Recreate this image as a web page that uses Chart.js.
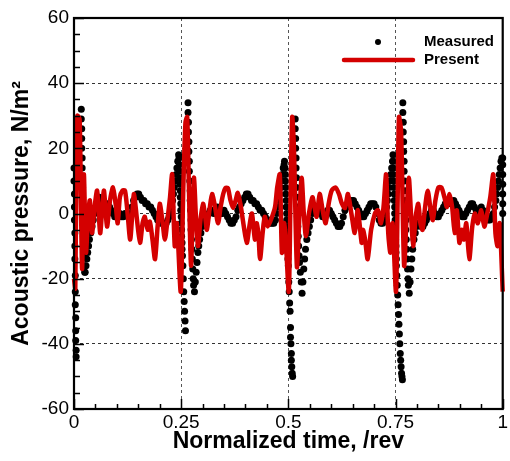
<!DOCTYPE html>
<html>
<head>
<meta charset="utf-8">
<script src="https://cdn.jsdelivr.net/npm/chart.js@4.4.0/dist/chart.umd.min.js"></script>
<style>
  body { margin: 0; background: #fff; }
  canvas { display: block; }
</style>
</head>
<body>
<canvas id="pressureChart" width="510" height="461"></canvas>
<script>
// Predicted signal (red line), time in rev and pressure in N/m^2
const presentTime = [
    0.000, 0.003, 0.006, 0.008, 0.013, 0.016, 0.019, 0.023, 0.028, 0.033,
    0.037, 0.042, 0.048, 0.054, 0.061, 0.066, 0.070, 0.077, 0.084, 0.091,
    0.097, 0.102, 0.107, 0.113, 0.119, 0.125, 0.131, 0.136, 0.140, 0.147,
    0.154, 0.160, 0.165, 0.172, 0.177, 0.183, 0.189, 0.195, 0.200, 0.206,
    0.212, 0.218, 0.224, 0.229, 0.235, 0.240, 0.249,
    0.255, 0.260, 0.264, 0.268, 0.273, 0.277, 0.280, 0.284, 0.289, 0.295,
    0.301, 0.306, 0.310, 0.316, 0.322, 0.329, 0.336, 0.342, 0.348, 0.353,
    0.359, 0.365, 0.371, 0.377, 0.382, 0.388, 0.395, 0.403, 0.409, 0.415,
    0.422, 0.426, 0.430, 0.434, 0.440, 0.445, 0.452, 0.462, 0.469, 0.474,
    0.480, 0.485, 0.490, 0.494, 0.501,
    0.505, 0.509, 0.513, 0.520, 0.526, 0.531, 0.536, 0.541, 0.548, 0.556,
    0.561, 0.566, 0.573, 0.580, 0.587, 0.594, 0.601, 0.610, 0.618, 0.625,
    0.632, 0.639, 0.647, 0.655, 0.662, 0.671, 0.674, 0.679, 0.685, 0.693,
    0.702, 0.709, 0.716, 0.722, 0.728, 0.733, 0.738, 0.743, 0.751,
    0.755, 0.758, 0.763, 0.770, 0.776, 0.781, 0.786, 0.791, 0.797, 0.803,
    0.808, 0.813, 0.819, 0.825, 0.831, 0.837, 0.843, 0.850, 0.857, 0.864,
    0.870, 0.876, 0.882, 0.888, 0.893, 0.899, 0.904, 0.909, 0.915, 0.922,
    0.929, 0.935, 0.942, 0.950, 0.957, 0.964, 0.971, 0.978, 0.983, 0.988,
    0.993, 1.000
];
const presentPressure = [
    -20, -23, 20, 30, 29, 5, -17, 12, -12, 0,
    4, -6, 2, 7, -6, 2, 7, -4, 4, 8,
    3, -3, 5, 7, 7, 0, -8, 0, 6, -2,
    -9, -3, -1, -5, -2.5, -8, -14, -4, 3, -2,
    -8, -2, 5, 12, -10, -3, -24,
    8, 28, 29.6, 8, -16, 2, 11, 0, -10, -2,
    3, -1, -5, 1, 6, 2, -3, 2, 6, 7.8,
    7.8, 4, 1.7, 4, 6.3, 3, -3, -9, -4, 0,
    -8, -3, -6, -14, -6, -1, -4, -1, 2, 8,
    12, -12, -3, -8, -24,
    5, 29.6, 20, -16.4, 0, 11, 0, -7, 0, 5,
    2, -1, 6, 1, -3, 3, 7, 8, 6, 3,
    1.7, 6, 0, -6, 1, -9, -5, -8, -14, -5,
    0, 1, -3, 2, 12, -6, -12, -3, -24,
    5, 29.6, 25, -16, 0, 11, 0, -10, -1, 3,
    -3, -5, 2, 7, 2, -2, 4, 8, 8, 5,
    2, 6, 2, -6, 1, -9, -5, -8, -3, -14,
    -4, 0, -3, 1, -4, 0, 5, 12, -6, -10,
    -3, -24
];

// Measured signal (black dots), one block per blade passage
const measuredTime = [
    0.000, 0.000, 0.001, 0.001, 0.001, 0.002, 0.002, 0.002, 0.003, 0.003, 0.003, 0.004, 0.004, 0.004, 0.005, 0.005,
    0.017, 0.017, 0.018, 0.018, 0.018, 0.019, 0.019, 0.019, 0.020, 0.020, 0.021, 0.021, 0.022, 0.022, 0.023, 0.023, 0.024, 0.025,
    0.026, 0.028, 0.030, 0.032, 0.034, 0.036, 0.039, 0.042, 0.045, 0.048,
    0.051, 0.055, 0.059, 0.063, 0.067, 0.071, 0.075, 0.079, 0.083, 0.087,
    0.091, 0.095, 0.099, 0.103, 0.107, 0.111, 0.115, 0.119, 0.123, 0.127,
    0.131, 0.135, 0.139, 0.143, 0.147, 0.151, 0.155, 0.159, 0.163, 0.167,
    0.171, 0.175, 0.179, 0.183, 0.187, 0.191, 0.195, 0.199, 0.203, 0.207,
    0.211, 0.215, 0.219, 0.222, 0.225, 0.228, 0.230, 0.232, 0.234, 0.236,
    0.238, 0.240, 0.242, 0.244,

    0.245, 0.246, 0.246, 0.247, 0.247, 0.248, 0.248, 0.249, 0.249, 0.250, 0.250, 0.251, 0.251, 0.252, 0.252, 0.253,
    0.254, 0.255, 0.256, 0.257, 0.258, 0.259, 0.260,
    0.266, 0.266, 0.267, 0.267, 0.268, 0.268, 0.269, 0.269, 0.270, 0.271, 0.271, 0.272, 0.273, 0.273, 0.274, 0.275, 0.276, 0.277, 0.278, 0.279, 0.281,
    0.283, 0.285, 0.287, 0.289, 0.291, 0.293, 0.296, 0.299, 0.302, 0.306,
    0.310, 0.314, 0.318, 0.322, 0.326, 0.330, 0.334, 0.338, 0.342, 0.346,
    0.350, 0.354, 0.358, 0.362, 0.366, 0.370, 0.374, 0.378, 0.382, 0.386,
    0.390, 0.394, 0.398, 0.402, 0.406, 0.410, 0.414, 0.418, 0.422, 0.426,
    0.430, 0.434, 0.438, 0.442, 0.446, 0.450, 0.454, 0.458, 0.462, 0.466,
    0.470, 0.473, 0.476, 0.478, 0.480, 0.482, 0.484, 0.486, 0.488, 0.490,
    0.491,

    0.492, 0.493, 0.493, 0.494, 0.494, 0.495, 0.495, 0.496, 0.496, 0.497, 0.497, 0.498, 0.498, 0.499, 0.499, 0.500,
    0.501, 0.502, 0.503, 0.504, 0.505, 0.505, 0.506, 0.507, 0.507, 0.508, 0.509, 0.510,
    0.516, 0.516, 0.517, 0.517, 0.518, 0.518, 0.519, 0.519, 0.520, 0.521, 0.521, 0.522, 0.523, 0.524, 0.525, 0.526, 0.528, 0.530, 0.532,
    0.534, 0.536, 0.538, 0.540, 0.543, 0.546, 0.549, 0.552, 0.556, 0.560,
    0.564, 0.568, 0.572, 0.576, 0.580, 0.584, 0.588, 0.592, 0.596, 0.600,
    0.604, 0.608, 0.612, 0.616, 0.620, 0.624, 0.628, 0.632, 0.636, 0.640,
    0.644, 0.648, 0.652, 0.656, 0.660, 0.664, 0.668, 0.672, 0.676, 0.680,
    0.684, 0.688, 0.692, 0.696, 0.700, 0.704, 0.708, 0.712, 0.716, 0.720,
    0.724, 0.727, 0.729, 0.731, 0.733, 0.735, 0.737, 0.739, 0.741, 0.743,

    0.744, 0.744, 0.745, 0.745, 0.746, 0.746, 0.747, 0.747, 0.748, 0.748, 0.749, 0.749, 0.750, 0.750, 0.751, 0.751, 0.752, 0.752,
    0.753, 0.754, 0.755, 0.756, 0.757, 0.758, 0.759, 0.760, 0.761, 0.762, 0.763, 0.764, 0.765, 0.766,
    0.767, 0.767, 0.768, 0.768, 0.769, 0.769, 0.770, 0.770, 0.771, 0.772, 0.772, 0.773, 0.774, 0.774, 0.775, 0.776, 0.777, 0.778, 0.779, 0.780, 0.782,
    0.784, 0.786, 0.788, 0.790, 0.793, 0.796, 0.799, 0.802, 0.806, 0.810,
    0.814, 0.818, 0.822, 0.826, 0.830, 0.834, 0.838, 0.842, 0.846, 0.850,
    0.854, 0.858, 0.862, 0.866, 0.870, 0.874, 0.878, 0.882, 0.886, 0.890,
    0.894, 0.898, 0.902, 0.906, 0.910, 0.914, 0.918, 0.922, 0.926, 0.930,
    0.934, 0.938, 0.942, 0.946, 0.950, 0.954, 0.958, 0.962, 0.966, 0.970,
    0.974, 0.978, 0.981, 0.984, 0.986, 0.988, 0.990, 0.992, 0.994, 0.996,
    0.998, 1.000, 1.000, 1.000, 1.000, 1.000, 1.000, 1.000
];
const measuredPressure = [
    14, 10, 6, 2, -2, -6, -10, -14, -19, -24, -28, -32, -36, -39, -42, -44,
    32, 29, 26, 23, 20, 17, 14, 11, 8, 5, 2, -1, -4, -7, -10, -13, -16, -18,
    -18, -16, -14, -12, -10, -8, -6, -4, -2, 0,
    2, 4, 5, 4, 3, 2, 2, 3, 2, 1,
    0, -1, -1, 0, 0, -1, -1, 0, 0, -1,
    0, 2, 4, 5, 6, 6, 5, 4, 4, 3,
    3, 2, 2, 1, 0, -1, -2, -2, -3, -3,
    -3, -3, -2, -1, 0, 2, 4, 6, 8, 10,
    12, 14, 16, 18,

    17, 15, 13, 11, 9, 7, 5, 3, 1, -1, -3, -5, -7, -9, -11, -13,
    -16, -20, -24, -27, -30, -33, -36,
    34, 31, 28, 25, 22, 19, 16, 13, 10, 7, 4, 1, -2, -5, -8, -11, -14, -17, -20, -22, -24,
    -21, -18, -15, -12, -10, -8, -6, -4, -3, -2,
    -1, 0, 1, 1, 0, 1, 2, 1, 0, 0,
    1, 0, -1, -2, -3, -3, -2, -1, 1, 2,
    3, 4, 5, 6, 6, 5, 4, 4, 3, 3,
    2, 1, 1, 0, -1, -2, -2, -3, -3, -3,
    -2, 0, 2, 4, 6, 8, 10, 12, 14, 15,
    16,

    14, 12, 10, 8, 6, 4, 2, 0, -2, -4, -6, -8, -10, -12, -14, -16,
    -21, -24, -27.5, -30, -35, -38, -40, -43, -45, -47, -49, -50,
    29, 26, 23, 20, 17, 14, 11, 8, 5, 2, -1, -4, -7, -10, -13, -15, -18, -21, -24.5,
    -21, -17, -14, -11, -8, -6, -4, -2, 0, 1,
    2, 2, 1, 0, -1, -1, 0, 1, 1, 0,
    -1, -2, -3, -4, -4, -3, -1, 1, 2, 3,
    3, 4, 4, 3, 2, 1, 0, -1, -1, 0,
    1, 2, 3, 3, 3, 2, 0, -2, -3, -3,
    -2, 0, 2, 4, 6, 8, 10, 12, 14, 16,

    18, 16, 14, 12, 10, 8, 6, 4, 2, 0, -2, -4, -6, -8, -10, -12, -14, -16,
    -19, -22, -25, -28, -31, -34, -37, -40, -43, -45, -47, -49, -50, -51,
    34, 31, 28, 25, 22, 19, 16, 13, 10, 7, 4, 1, -2, -5, -8, -11, -14, -17, -20, -22, -24.5,
    -21, -17, -14, -11, -8, -6, -4, -3, -3, -4,
    -4, -3, -2, -1, 0, 1, 1, 0, -1, -1,
    0, 1, 2, 3, 4, 4, 3, 3, 4, 3,
    2, 1, 0, -1, -1, 0, 1, 2, 3, 3,
    2, 1, 0, 1, 2, 1, 0, -1, -2, -2,
    -1, 0, 2, 4, 6, 8, 10, 12, 14, 16,
    17, 17, 15, 12, 9, 6, 3, 0
];

const seriesNames = ['Measured', 'Present'];
const FONT = '"Liberation Sans", Arial, Helvetica, sans-serif';
const RED = '#d40000';

function toPoints(xs, ys) {
    return xs.map((x, i) => ({ x: x, y: ys[i] }));
}

function isMultiple(v, step) {
    const r = v / step;
    return Math.abs(r - Math.round(r)) < 1e-6;
}

// frame and inward ticks, Tecplot style
const framePlugin = {
    id: 'frame',
    afterDatasetsDraw(chart) {
        const { ctx, chartArea: a, scales } = chart;
        ctx.save();
        ctx.strokeStyle = '#000';
        ctx.lineWidth = 1.5;
        ctx.beginPath();
        scales.x.ticks.forEach(t => {
            const px = Math.round(scales.x.getPixelForValue(t.value)) + 0.5;
            const len = isMultiple(t.value, 0.25) ? 10 : 5;
            ctx.moveTo(px, a.bottom);
            ctx.lineTo(px, a.bottom - len);
        });
        scales.y.ticks.forEach(t => {
            const py = Math.round(scales.y.getPixelForValue(t.value)) + 0.5;
            const len = isMultiple(t.value, 20) ? 10 : 6;
            ctx.moveTo(a.left, py);
            ctx.lineTo(a.left + len, py);
        });
        ctx.stroke();
        ctx.lineWidth = 2.2;
        ctx.strokeRect(a.left, a.top, a.right - a.left, a.bottom - a.top);
        ctx.restore();
    }
};

const legendPlugin = {
    id: 'plotLegend',
    afterDraw(chart) {
        const ctx = chart.ctx;
        ctx.save();
        ctx.fillStyle = '#000';
        ctx.beginPath();
        ctx.arc(378, 42, 3, 0, Math.PI * 2);
        ctx.fill();
        ctx.strokeStyle = RED;
        ctx.lineWidth = 4.5;
        ctx.lineCap = 'round';
        ctx.beginPath();
        ctx.moveTo(344, 60);
        ctx.lineTo(413, 60);
        ctx.stroke();
        ctx.font = 'bold 15px ' + FONT;
        ctx.textBaseline = 'middle';
        ctx.fillText(seriesNames[0], 424, 42);
        ctx.fillText(seriesNames[1], 424, 60);
        ctx.restore();
    }
};

const ctx = document.getElementById('pressureChart').getContext('2d');
new Chart(ctx, {
    type: 'scatter',
    data: {
        datasets: [{
            label: seriesNames[1],
            data: toPoints(presentTime, presentPressure),
            showLine: true,
            borderColor: RED,
            borderWidth: 4.5,
            pointRadius: 0,
            tension: 0.25,
            clip: false,
            order: 0
        }, {
            label: seriesNames[0],
            data: toPoints(measuredTime, measuredPressure),
            showLine: false,
            pointRadius: 3.5,
            pointBorderWidth: 0,
            pointBackgroundColor: '#000',
            clip: false,
            order: 1
        }]
    },
    options: {
        responsive: false,
        animation: false,
        events: [],
        layout: { padding: { left: 0, right: 7, top: 18, bottom: 0 } },
        plugins: {
            legend: { display: false },
            tooltip: { enabled: false }
        },
        scales: {
            x: {
                type: 'linear',
                min: 0,
                max: 1,
                afterFit: s => { s.height = 52; },
                ticks: {
                    stepSize: 0.05,
                    autoSkip: false,
                    maxRotation: 0,
                    padding: 2,
                    color: '#000',
                    font: { family: FONT, size: 19 },
                    callback: v => isMultiple(v, 0.25) ? String(Math.round(v * 100) / 100) : ''
                },
                grid: {
                    drawTicks: false,
                    lineWidth: 1,
                    color: c => (c.tick && isMultiple(c.tick.value, 0.25) && c.tick.value > 0 && c.tick.value < 1) ? '#555' : 'rgba(0,0,0,0)'
                },
                border: { display: false, dash: [3, 3] },
                title: {
                    display: true,
                    text: 'Normalized time, /rev',
                    color: '#000',
                    font: { family: FONT, size: 23, weight: 'bold' },
                    padding: { top: 0, bottom: 6 }
                }
            },
            y: {
                type: 'linear',
                min: -60,
                max: 60,
                afterFit: s => { s.width = 74; },
                ticks: {
                    stepSize: 5,
                    autoSkip: false,
                    padding: 5,
                    color: '#000',
                    font: { family: FONT, size: 19 },
                    callback: v => isMultiple(v, 20) ? String(v) : ''
                },
                grid: {
                    drawTicks: false,
                    lineWidth: 1,
                    color: c => (c.tick && isMultiple(c.tick.value, 20) && Math.abs(c.tick.value) < 60) ? '#333' : 'rgba(0,0,0,0)'
                },
                border: { display: false, dash: [3, 3] },
                title: {
                    display: true,
                    text: 'Acoustic pressure, N/m²',
                    color: '#000',
                    font: { family: FONT, size: 23, weight: 'bold' },
                    padding: { top: 8, bottom: 0 }
                }
            }
        }
    },
    plugins: [framePlugin, legendPlugin]
});
</script>
</body>
</html>
